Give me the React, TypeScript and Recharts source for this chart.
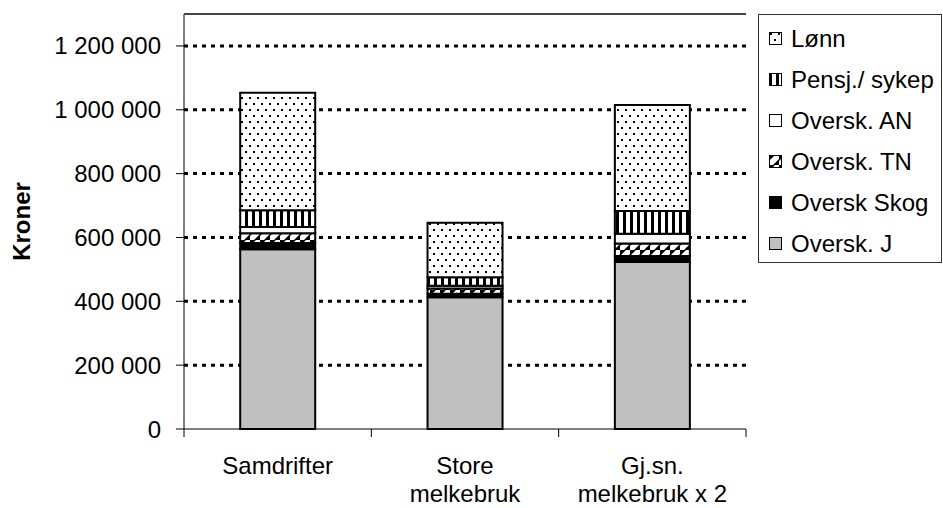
import { BarChart, Bar, XAxis, YAxis, CartesianGrid } from 'recharts';

// kategorier (linjeskift = ny linje i aksetekst)
const categories = ['Samdrifter', 'Store\nmelkebruk', 'Gj.sn.\nmelkebruk x 2'];

// verdier i kroner, lest fra figuren
const oversJ = [563000, 413000, 523000];
const oversSkog = [20000, 11000, 19000];
const oversTN = [30000, 16000, 39000];
const oversAN = [20000, 9000, 31000];
const pensj = [52000, 26000, 71000];
const lonn = [368000, 171000, 332000];

const yTicks = [0, 200000, 400000, 600000, 800000, 1000000, 1200000];
const yMax = 1300000;

const series = [
  { key: 'j', name: 'Oversk. J', values: oversJ, fill: '#C0C0C0' },
  { key: 'skog', name: 'Oversk Skog', values: oversSkog, fill: '#000000' },
  { key: 'tn', name: 'Oversk. TN', values: oversTN, fill: 'url(#hatch)' },
  { key: 'an', name: 'Oversk. AN', values: oversAN, fill: '#FFFFFF' },
  { key: 'pensj', name: 'Pensj./ sykep', values: pensj, fill: 'url(#vstripes)' },
  { key: 'lonn', name: 'Lønn', values: lonn, fill: 'url(#dots)' },
];

const data = categories.map((name, i) => {
  const row: Record<string, string | number> = { name };
  series.forEach((s) => (row[s.key] = s.values[i]));
  return row;
});

const W = 943;
const H = 508;
const M = { top: 14, right: 197, bottom: 0, left: 0 };
const Y_W = 184;
const X_H = 79;
const PLOT_W = W - M.right - Y_W;
const BAND = PLOT_W / categories.length;
const FONT = '"Liberation Sans", Arial, sans-serif';

const fmt = (v: number) => String(v).replace(/\B(?=(\d{3})+(?!\d))/g, ' ');

function XTick(props: any) {
  const { x, y, payload, index } = props;
  const lines = String(payload.value).split('\n');
  const half = BAND / 2;
  return (
    <g>
      <line x1={x - half} y1={y} x2={x - half} y2={y + 8} stroke="#000" />
      {index === categories.length - 1 && (
        <line x1={x + half} y1={y} x2={x + half} y2={y + 8} stroke="#000" />
      )}
      {lines.map((l, i) => (
        <text key={i} x={x} y={y + 45 + i * 28} textAnchor="middle" fontSize={24} fontFamily={FONT} fill="#000">
          {l}
        </text>
      ))}
    </g>
  );
}

function LegendBox() {
  return (
    <div
      style={{
        position: 'absolute',
        left: 758,
        top: 14,
        border: '1px solid #333',
        background: '#fff',
        width: 184,
        height: 249,
        boxSizing: 'border-box',
        paddingTop: 3,
        fontFamily: FONT,
        fontSize: 24,
        color: '#000',
        overflow: 'hidden',
      }}
    >
      {[...series].reverse().map((s) => (
        <div key={s.key} style={{ height: 41, display: 'flex', alignItems: 'center', paddingLeft: 10 }}>
          <svg width={14} height={14} style={{ marginRight: 8, flex: 'none' }}>
            <rect x={0.5} y={0.5} width={12} height={12} fill={s.fill} stroke="#000" />
          </svg>
          <span style={{ whiteSpace: 'nowrap' }}>{s.name}</span>
        </div>
      ))}
    </div>
  );
}

export default function App() {
  return (
    <div style={{ position: 'absolute', left: 0, top: 0, width: W, height: H, background: '#fff' }}>
      <BarChart width={W} height={H} data={data} margin={M} barCategoryGap="30%">
        <defs>
          <pattern id="dots" patternUnits="userSpaceOnUse" width={8} height={12}>
            <rect width={8} height={12} fill="#fff" />
            <rect x={1} y={1} width={2} height={2} fill="#000" />
            <rect x={5} y={7} width={2} height={2} fill="#000" />
          </pattern>
          <pattern id="vstripes" patternUnits="userSpaceOnUse" width={7} height={4}>
            <rect width={7} height={4} fill="#fff" />
            <rect x={0} y={0} width={3} height={4} fill="#000" />
          </pattern>
          <pattern id="hatch" patternUnits="userSpaceOnUse" width={10} height={10}>
            <rect width={10} height={10} fill="#000" />
            <polygon points="0,10 4,10 10,4 10,0 6,0 0,6" fill="#fff" />
          </pattern>
        </defs>
        <CartesianGrid
          vertical={false}
          horizontalValues={yTicks.slice(1)}
          stroke="#000"
          strokeWidth={3}
          strokeDasharray="4 5"
        />
        <XAxis
          dataKey="name"
          axisLine={{ stroke: '#000' }}
          tickLine={false}
          tickSize={0}
          tickMargin={0}
          height={X_H}
          interval={0}
          tick={<XTick />}
        />
        <YAxis
          width={Y_W}
          domain={[0, yMax]}
          ticks={yTicks}
          tickFormatter={fmt}
          tickSize={8}
          tickMargin={15}
          axisLine={{ stroke: '#000' }}
          tickLine={{ stroke: '#000' }}
          tick={{ fill: '#000', fontSize: 24, fontFamily: FONT }}
          label={{
            content: ({ viewBox }: any) => {
              const cx = viewBox.x + 21;
              const cy = viewBox.y + viewBox.height / 2;
              return (
                <text
                  x={cx}
                  y={cy}
                  transform={`rotate(-90 ${cx} ${cy})`}
                  textAnchor="middle"
                  dominantBaseline="central"
                  fontSize={24}
                  fontWeight="bold"
                  fontFamily={FONT}
                  fill="#000"
                >
                  Kroner
                </text>
              );
            },
          }}
        />
        <YAxis yAxisId="right" orientation="right" width={0} tick={false} tickLine={false} axisLine={{ stroke: '#555' }} />
        {series.map((s) => (
          <Bar
            key={s.key}
            dataKey={s.key}
            name={s.name}
            stackId="a"
            fill={s.fill}
            stroke="#000"
            strokeWidth={2}
            isAnimationActive={false}
          />
        ))}
      </BarChart>
      {/* ramme øverst i plottområdet */}
      <div
        style={{
          position: 'absolute',
          zIndex: 10,
          left: Y_W,
          top: M.top - 1,
          width: PLOT_W,
          height: 2,
          background: '#444',
        }}
      />
      <LegendBox />
    </div>
  );
}
